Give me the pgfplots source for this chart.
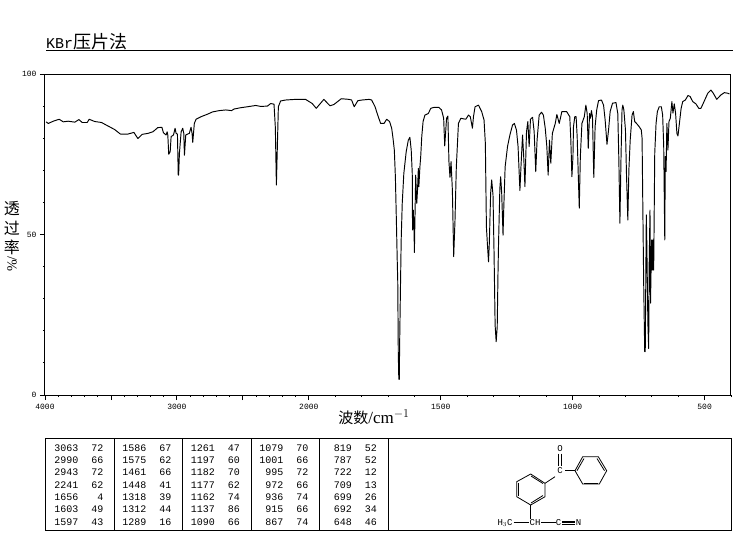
\documentclass[border=0pt]{standalone}
\usepackage{fontspec}
\usepackage{pgfplots}
\usepackage{pgfplotstable}
\pgfplotsset{compat=1.18}
\setmainfont{Liberation Serif}
\newfontfamily\cjk{Noto Sans CJK SC}
\newfontfamily\mono{Liberation Mono}

% spectrum: wavenumber, transmittance
\pgfplotstableread{
w T
3992 85.1
3975 84.6
3937 85.3
3892 85.9
3862 85.1
3824 85.3
3774 85.0
3743 85.8
3718 84.9
3680 84.9
3665 85.9
3623 85.2
3572 84.9
3522 83.8
3472 82.7
3429 81.3
3371 81.3
3326 81.8
3296 79.9
3263 81.2
3220 81.5
3182 82.0
3145 83.3
3114 83.4
3102 81.7
3082 81.0
3074 82.0
3069 81.0
3062 75.0
3051 75.8
3044 80.5
3026 81.0
3014 83.1
3006 81.5
2996 81.3
2990 68.5
2987 68.5
2981 75.3
2968 82.0
2956 83.1
2948 81.5
2943 74.7
2933 81.0
2918 81.3
2906 81.5
2893 83.4
2885 81.5
2880 78.7
2868 84.6
2855 85.9
2817 86.7
2767 87.5
2729 88.2
2679 88.6
2629 88.8
2586 88.6
2566 89.1
2516 89.5
2465 89.8
2402 90.2
2365 89.9
2314 90.0
2289 90.8
2264 90.6
2254 83.4
2246 65.4
2239 76.8
2231 89.8
2214 91.6
2176 91.9
2100 92.1
2025 92.1
1987 90.8
1972 89.3
1943 92.1
1920 90.1
1905 90.5
1877 92.3
1848 92.1
1838 91.9
1828 89.8
1814 91.7
1798 91.9
1772 92.1
1762 91.9
1749 89.8
1741 87.7
1728 84.6
1715 84.6
1705 85.9
1694 85.2
1686 83.1
1681 80.0
1676 76.3
1672 68.0
1668 53.5
1665 42.0
1663 35.3
1661 13.0
1659 4.9
1657 4.9
1656 15.0
1653 32.0
1650 48.3
1646 59.7
1640 69.0
1631 75.8
1623 79.4
1617 80.3
1612 76.3
1608 69.0
1607 51.4
1604 57.6
1601 50.4
1600 44.4
1595 68.5
1591 59.7
1588 63.9
1585 70.6
1583 64.9
1579 71.1
1576 74.3
1572 80.5
1567 85.2
1560 87.2
1547 87.7
1538 89.3
1526 89.6
1507 89.6
1497 88.8
1489 86.2
1485 77.6
1478 86.2
1473 86.9
1469 72.7
1465 67.8
1461 72.7
1456 63.9
1451 43.1
1446 54.5
1441 71.1
1433 84.6
1424 86.2
1405 85.9
1395 87.2
1388 86.7
1380 83.1
1376 86.7
1370 89.8
1357 90.3
1345 88.3
1336 85.7
1331 78.4
1327 52.4
1323 46.7
1319 41.5
1316 47.2
1311 62.8
1307 67.0
1302 62.3
1298 44.1
1294 21.8
1290 16.6
1286 21.3
1283 38.4
1281 47.2
1276 64.4
1273 68.0
1269 62.8
1264 49.8
1261 58.7
1256 71.1
1247 77.4
1238 81.0
1228 84.1
1221 84.6
1213 82.5
1207 77.4
1200 63.7
1196 71.1
1190 81.0
1185 73.2
1181 64.9
1175 82.0
1170 85.2
1165 77.4
1160 85.9
1152 86.5
1146 82.0
1140 69.6
1135 79.4
1127 87.2
1118 88.1
1111 87.2
1104 83.1
1098 77.4
1093 68.5
1088 79.4
1083 72.2
1077 81.5
1066 84.6
1060 87.4
1051 84.6
1041 88.3
1023 88.3
1011 86.7
1007 79.4
1003 68.0
999 74.2
997 83.6
992 86.7
987 86.7
983 80.5
979 69.0
975 58.2
971 74.2
965 84.6
956 86.7
950 90.3
945 87.7
941 76.8
936 87.7
932 86.2
929 88.6
925 86.7
920 67.8
915 83.6
909 88.8
902 91.7
891 91.9
883 90.3
877 85.7
870 78.1
864 82.6
858 88.3
849 90.9
836 91.1
829 87.7
825 73.2
821 53.5
817 73.2
813 88.8
810 90.3
806 88.8
800 82.6
796 68.5
791 54.5
787 70.1
782 79.4
775 87.2
770 88.3
765 85.2
758 84.6
748 83.6
740 82.6
737 80.0
735 64.9
731 35.3
727 13.5
725 13.5
721 56.1
719 47.3
715 22.3
712 14.5
710 41.0
707 57.6
705 28.6
701 48.3
698 38.9
696 48.3
693 38.9
689 75.3
684 84.6
679 88.3
672 89.8
664 89.8
659 87.2
655 77.4
651 48.3
649 74.3
646 69.6
643 84.6
639 76.3
635 85.2
630 86.2
624 91.4
620 87.8
615 90.7
610 87.8
605 81.5
601 80.7
594 85.7
589 89.3
583 91.4
573 91.9
563 93.3
555 93.0
545 91.4
533 90.7
522 89.3
514 89.3
505 90.9
488 94.0
476 95.0
467 94.0
454 92.1
438 93.5
425 94.2
412 94.0
406 93.8
}\spectrum

\begin{document}
\begin{tikzpicture}
\useasboundingbox (0pt,0pt) rectangle (737pt,-539pt);
\begin{axis}[
    at={(45pt,-395pt)},
    anchor=south west,
    scale only axis,
    width=686pt,
    height=321pt,
    x dir=reverse,
    % scale doubles below 2000, as on the original chart
    x coord trafo/.code={\pgfmathparse{#1<2000 ? 2*#1-2000 : #1}},
    xmin=400, xmax=4000,
    ymin=0, ymax=100,
    xtick={4000,3500,3000,2500,2000,1500,1000,500},
    xticklabels={4000,,3000,,2000,1500,1000,500},
    minor xtick={3900,3800,3700,3600,3400,3300,3200,3100,2900,2800,2700,2600,2400,2300,2200,2100,1900,1800,1700,1600,1400,1300,1200,1100,900,800,700,600,400},
    ytick={0,50,100},
    minor ytick={10,20,30,40,60,70,80,90},
    xtick pos=bottom,
    ytick pos=left,
    tick align=outside,
    major tick length=5pt,
    minor tick length=2pt,
    axis line style={line width=1pt},
    tick style={line width=0.9pt,black},
    ticklabel style={font=\mono\fontsize{8}{8}\selectfont},
    /pgf/number format/assume math mode=true,
    xticklabel style={yshift=-1pt},
    scaled x ticks=false,
]
\addplot[black,line width=0.95pt,line join=round] table[x=w,y=T] {\spectrum};
\end{axis}

\begin{scope}[x=1pt,y=-1pt]
% title and axis labels
\node[anchor=west,inner sep=0pt] at (46,42) {{\mono\fontsize{15}{15}\selectfont KBr}{\cjk\fontsize{18}{18}\selectfont 压片法}};
\draw[line width=1pt] (46,50.5) -- (733,50.5);
\node[inner sep=0pt] at (374,417) {{\cjk\fontsize{15}{15}\selectfont 波数}{\fontsize{17}{17}\selectfont /cm$^{-1}$}};
\node[inner sep=0pt] at (12,209) {\cjk\fontsize{16}{16}\selectfont 透};
\node[inner sep=0pt] at (12,228) {\cjk\fontsize{16}{16}\selectfont 过};
\node[inner sep=0pt] at (12,247) {\cjk\fontsize{16}{16}\selectfont 率};
\node[inner sep=0pt,rotate=90] at (12,264) {\fontsize{14}{14}\selectfont \%/};

% peak table
\draw[line width=1pt] (45.5,438.5) rectangle (731,530);
\foreach \vx in {114.5,182.5,251.5,319.5,388}
    \draw[line width=1pt] (\vx,438.5) -- (\vx,530);
\foreach \cx/\rows in {
    78.5/{3063/72,2990/66,2943/72,2241/62,1656/4,1603/49,1597/43},
    146.5/{1586/67,1575/62,1461/66,1448/41,1318/39,1312/44,1289/16},
    215/{1261/47,1197/60,1182/70,1177/62,1162/74,1137/86,1090/66},
    283.5/{1079/70,1001/66,995/72,972/66,936/74,915/66,867/74},
    352/{819/52,787/52,722/12,709/13,699/26,692/34,648/46}}{
    \foreach \wn/\tv [count=\i from 0] in \rows {
        \pgfmathsetmacro\ry{451.2+12.3*\i}
        \pgfmathsetmacro\tx{\cx+25}
        \node[anchor=base east,inner sep=0pt,font=\mono\fontsize{10}{10}\selectfont] at (\cx,\ry) {\wn};
        \node[anchor=base east,inner sep=0pt,font=\mono\fontsize{10}{10}\selectfont] at (\tx,\ry) {\tv};
    }
}

% structure
\begin{scope}[line width=0.8pt]
\draw (575,470.7) -- (582.7,456.7) -- (598.3,456.7) -- (606.7,470.7) -- (599.3,484) -- (582.7,484) -- cycle;
\draw (577,470.7) -- (584,458.5);
\draw (597,458.5) -- (604.5,470.7);
\draw (584,483) -- (598,483);
\draw (530.7,474) -- (545,483.3) -- (545,496.7) -- (530.7,505) -- (516.7,496.7) -- (516.7,481.7) -- cycle;
\draw (531,476) -- (543,483.5);
\draw (543,495.5) -- (531,503);
\draw (518.5,495.5) -- (518.5,483);
\draw (545,483.3) -- (555,476.7);
\draw (565,470.7) -- (575,470.7);
\draw (558.7,453.5) -- (558.7,466);
\draw (561.3,453.5) -- (561.3,466);
\draw (530.7,505) -- (530.7,518.5);
\draw (513.5,522.7) -- (529,522.7);
\draw (541,522.7) -- (555.7,522.7);
\draw (562.3,521.3) -- (575,521.3);
\draw (562.3,522.7) -- (575,522.7);
\draw (562.3,524.1) -- (575,524.1);
\end{scope}
\begin{scope}[every node/.style={inner sep=0pt,font=\mono\fontsize{9}{9}\selectfont}]
\node at (560,449) {O};
\node at (560,470.7) {C};
\node at (505,522.7) {H$_3$C};
\node at (535,522.7) {CH};
\node at (558.5,522.7) {C};
\node at (578.5,522.7) {N};
\end{scope}
\end{scope}
\end{tikzpicture}
\end{document}
